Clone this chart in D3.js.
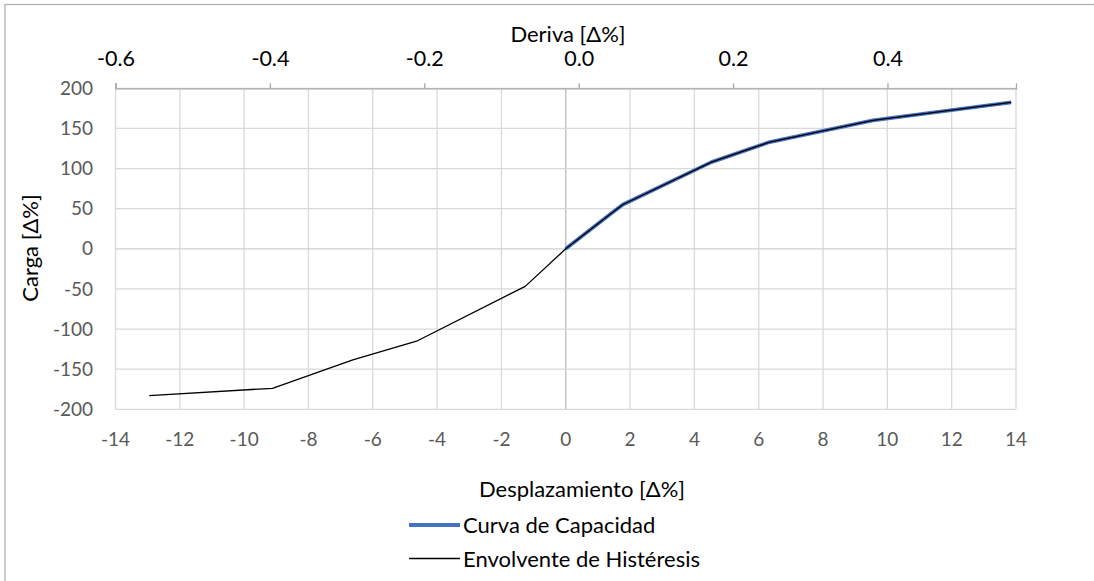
<!DOCTYPE html>
<html>
<head>
<meta charset="utf-8">
<script src="https://cdn.jsdelivr.net/npm/d3@7"></script>
<style>
  html, body { margin: 0; padding: 0; background: #fff; }
  svg { display: block; font-family: Lato, "Open Sans", sans-serif; }
</style>
</head>
<body>
<svg id="chart" width="1094" height="581"></svg>
<script>
// ---- data ----
const capDisp = [0, 1.42, 1.78, 4.53, 6.34, 9.55, 13.85];
const capLoad = [0, 44.4, 55.2, 108, 133, 160, 182.4];
const envDisp = [-12.95, -9.12, -6.62, -4.64, -1.26, 0, 1.42, 1.78, 4.53, 6.34, 9.55, 13.85];
const envLoad = [-182.9, -173.8, -138.5, -115.2, -46.8, 0, 44.4, 55.2, 108, 133, 160, 182.4];
const xTicks = [-14, -12, -10, -8, -6, -4, -2, 0, 2, 4, 6, 8, 10, 12, 14];
const yTicks = [-200, -150, -100, -50, 0, 50, 100, 150, 200];
const driftTicks = [-0.6, -0.4, -0.2, 0.0, 0.2, 0.4];
const seriesNames = ["Curva de Capacidad", "Envolvente de Histéresis"];
const xTitle = "Desplazamiento [Δ%]";
const yTitle = "Carga [Δ%]";
const topTitle = "Deriva [Δ%]";

// ---- layout ----
const svg = d3.select("#chart");
const L = 115.5, R = 1016, T = 88.3, B = 409.3;
const x = d3.scaleLinear().domain([-14, 14]).range([L, R]);
const y = d3.scaleLinear().domain([-200, 200]).range([B, T]);
const xTop = d3.scaleLinear().domain([-0.6, 0.5665]).range([L, R]);

// outer border
svg.append("rect").attr("x", 5).attr("y", 4.5).attr("width", 1200).attr("height", 700)
  .attr("fill", "none").attr("stroke", "#b3b3b3").attr("stroke-width", 1.3);

// gridlines
const grid = svg.append("g");
grid.selectAll("line.v").data(xTicks).join("line")
  .attr("x1", d => x(d)).attr("x2", d => x(d)).attr("y1", T).attr("y2", B)
  .attr("stroke", d => d === 0 ? "#bdbdbd" : "#d9d9d9").attr("stroke-width", 1.3);
grid.selectAll("line.h").data(yTicks).join("line")
  .attr("x1", L).attr("x2", R).attr("y1", d => y(d)).attr("y2", d => y(d))
  .attr("stroke", d => d === 0 ? "#cfcfcf" : "#d9d9d9").attr("stroke-width", 1.3);

// y tick labels
svg.append("g").selectAll("text").data(yTicks).join("text")
  .attr("x", 93).attr("y", d => y(d)).attr("dy", "0.35em")
  .attr("text-anchor", "end").attr("font-size", 19).attr("fill", "#595959")
  .text(d => d);

// x tick labels
svg.append("g").selectAll("text").data(xTicks).join("text")
  .attr("x", d => x(d)).attr("y", 446)
  .attr("text-anchor", "middle").attr("font-size", 19).attr("fill", "#595959")
  .text(d => d);

// top axis
const fmt = d3.format(".1f");
const topAxis = d3.axisTop(xTop).tickValues(driftTicks).tickSize(5)
  .tickFormat(d => fmt(d).replace("−", "-"));
const gTop = svg.append("g").attr("transform", `translate(0,${T})`).call(topAxis);
gTop.select(".domain").attr("stroke", "#a6a6a6").attr("stroke-width", 1.3);
gTop.selectAll(".tick line").attr("stroke", "#a6a6a6").attr("stroke-width", 1.3);
gTop.selectAll(".tick text").attr("font-size", 21.5).attr("fill", "#000")
  .attr("font-family", "Lato, sans-serif").attr("y", -22).attr("dy", 0);

// titles
svg.append("text").attr("x", 568).attr("y", 42).attr("text-anchor", "middle")
  .attr("font-size", 22).attr("fill", "#000").text(topTitle);
svg.append("text").attr("x", 582).attr("y", 497).attr("text-anchor", "middle")
  .attr("font-size", 22).attr("fill", "#000").text(xTitle);
svg.append("text").attr("transform", "translate(38,248) rotate(-90)")
  .attr("text-anchor", "middle").attr("font-size", 22).attr("fill", "#000").text(yTitle);

// series
const line = d3.line().x(d => x(d[0])).y(d => y(d[1]));
const capData = capDisp.map((d, i) => [d, capLoad[i]]);
const envData = envDisp.map((d, i) => [d, envLoad[i]]);
svg.append("path").datum(capData).attr("d", line).attr("fill", "none")
  .attr("stroke", "#4472C4").attr("stroke-width", 3.8).attr("stroke-linejoin", "round");
svg.append("path").datum(envData).attr("d", line).attr("fill", "none")
  .attr("stroke", "#000").attr("stroke-width", 1.3).attr("stroke-linejoin", "round");

// legend
const legend = svg.append("g");
const legY = [525, 558.5];
const legColor = ["#4472C4", "#000"];
const legW = [3.8, 1.3];
seriesNames.forEach((name, i) => {
  legend.append("line").attr("x1", 409).attr("x2", 460).attr("y1", legY[i]).attr("y2", legY[i])
    .attr("stroke", legColor[i]).attr("stroke-width", legW[i]);
  legend.append("text").attr("x", 463).attr("y", legY[i] + 8).attr("font-size", 22)
    .attr("fill", "#000").text(name);
});
</script>
</body>
</html>
